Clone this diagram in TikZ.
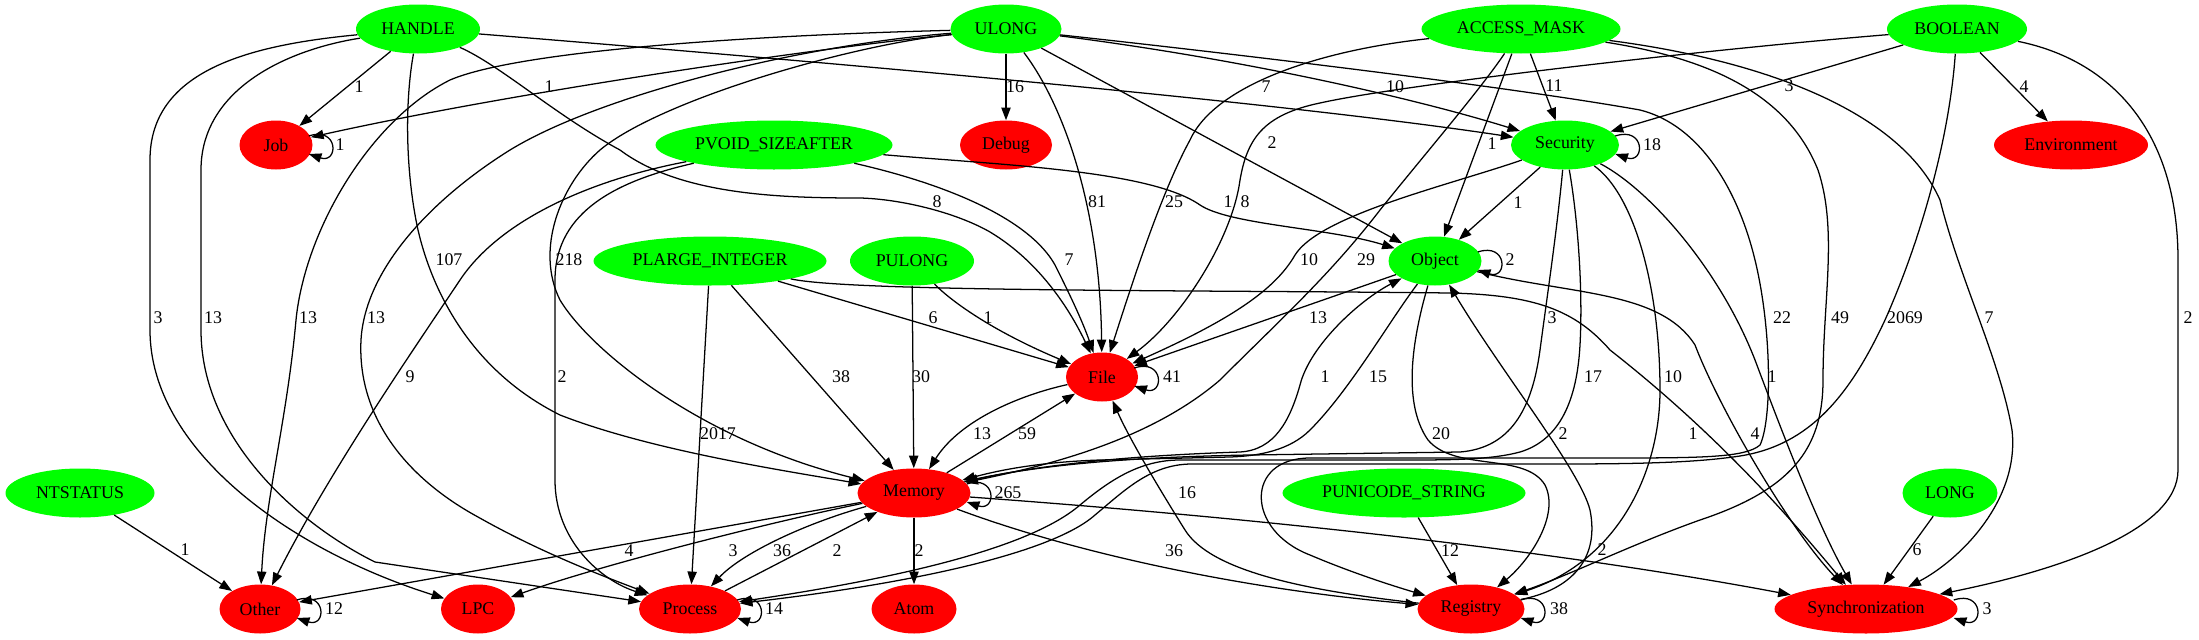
\documentclass[tikz,border=0pt]{standalone}
\usepackage{fontspec}
\setmainfont{Liberation Serif}
\usetikzlibrary{shapes.geometric,arrows.meta}
\definecolor{gcol}{RGB}{0,255,0}
\definecolor{rcol}{RGB}{255,0,0}
\newcommand\myloop[1]{\draw[edg] ([shift={(-4,-9)}]#1.east) .. controls +(30,-10) and +(30,10) .. ([shift={(-4,9)}]#1.east);}
\begin{document}
\begin{tikzpicture}[x=0.75pt,y=-0.75pt,
  font=\fontsize{13.4}{16}\selectfont,
  base/.style={ellipse, draw=none, inner sep=0pt, minimum height=36.75pt},
  gnode/.style={base, fill=gcol, minimum width=#1*0.75pt},
  rnode/.style={base, fill=rcol, minimum width=#1*0.75pt},
  edg/.style={draw=black, line width=0.95pt, -{Triangle[length=9.5pt,width=7pt]}},
  lbl/.style={inner sep=0pt}]
\useasboundingbox (0,0) rectangle (2199,639);
% nodes
\node[gnode=124] (HANDLE) at (418,29) {HANDLE};
\node[gnode=111] (ULONG) at (1006,29) {ULONG};
\node[gnode=199] (ACCESS) at (1521,29) {ACCESS\_MASK};
\node[gnode=140] (BOOLEAN) at (1957,29) {BOOLEAN};
\node[rnode=73] (Job) at (276,145) {Job};
\node[gnode=237] (PVOID) at (774,145) {PVOID\_SIZEAFTER};
\node[rnode=92] (Debug) at (1006,145) {Debug};
\node[gnode=108] (Security) at (1565,145) {Security};
\node[rnode=154] (Env) at (2071,145) {Environment};
\node[gnode=233] (PLARGE) at (710,261) {PLARGE\_INTEGER};
\node[gnode=124] (PULONG) at (912,261) {PULONG};
\node[gnode=93] (Object) at (1435,261) {Object};
\node[rnode=72] (File) at (1102,377) {File};
\node[gnode=149] (NTSTATUS) at (80,493) {NTSTATUS};
\node[rnode=113] (Memory) at (914,493) {Memory};
\node[gnode=243] (PUNI) at (1404,493) {PUNICODE\_STRING};
\node[gnode=95] (LONG) at (1950,493) {LONG};
\node[rnode=81] (Other) at (260,609) {Other};
\node[rnode=74] (LPC) at (478,609) {LPC};
\node[rnode=102] (Process) at (690,609) {Process};
\node[rnode=85] (Atom) at (914,609) {Atom};
\node[rnode=107] (Registry) at (1471,609) {Registry};
\node[rnode=183] (Sync) at (1866,609) {Synchronization};
% HANDLE
\draw[edg] (HANDLE) -- (Job);
\draw[edg] (HANDLE) .. controls (250,45) and (150,70) .. (150,160) -- (150,330) .. controls (150,450) and (290,550) .. (LPC);
\draw[edg] (HANDLE) .. controls (285,50) and (201,90) .. (201,170) -- (201,330) .. controls (201,440) and (300,525) .. (375,562) -- (Process);
\draw[edg] (HANDLE) .. controls (405,100) and (405,170) .. (418,230) .. controls (432,290) and (470,370) .. (560,415) .. controls (650,450) and (780,470) .. (Memory);
\draw[edg] (HANDLE) .. controls (500,65) and (555,115) .. (620,150) .. controls (680,195) and (780,198) .. (860,198) .. controls (900,199) and (955,212) .. (990,232) .. controls (1040,262) and (1070,310) .. (File);
\draw[edg] (HANDLE) .. controls (900,68) and (1300,105) .. (Security);
% ULONG
\draw[edg] (ULONG) .. controls (800,50) and (500,95) .. (Job);
\draw[edg] (ULONG) .. controls (760,35) and (520,50) .. (450,80) .. controls (370,120) and (305,230) .. (296,320) .. controls (287,420) and (265,500) .. (Other);
\draw[edg] (ULONG) .. controls (800,45) and (600,95) .. (510,150) .. controls (430,200) and (365,270) .. (361,340) .. controls (357,420) and (410,480) .. (478,517) .. controls (540,552) and (600,575) .. (Process);
\draw[edg] (ULONG) .. controls (850,45) and (660,100) .. (600,150) .. controls (560,185) and (535,250) .. (560,300) .. controls (590,350) and (700,440) .. (Memory);
\draw[edg] (ULONG) -- (Debug);
\draw[edg] (ULONG) .. controls (1060,100) and (1100,200) .. (File);
\draw[edg] (ULONG) -- (Object);
\draw[edg] (ULONG) .. controls (1250,60) and (1420,100) .. (Security);
\draw[edg] (ULONG) .. controls (1200,50) and (1500,85) .. (1640,110) .. controls (1700,125) and (1738,190) .. (1755,260) .. controls (1772,330) and (1772,420) .. (1760,445) .. controls (1745,458) and (1700,458) .. (1600,458) -- (1310,458) .. controls (1245,458) and (1245,530) .. (1310,555) .. controls (1350,572) and (1390,585) .. (Registry);
% ACCESS_MASK
\draw[edg] (ACCESS) .. controls (1320,50) and (1215,85) .. (1190,140) .. controls (1160,195) and (1130,290) .. (File);
\draw[edg] (ACCESS) .. controls (1480,90) and (1420,160) .. (1380,210) .. controls (1330,275) and (1280,320) .. (1220,380) .. controls (1150,440) and (1050,465) .. (Memory);
\draw[edg] (ACCESS) -- (Object);
\draw[edg] (ACCESS) -- (Security);
\draw[edg] (ACCESS) .. controls (1720,60) and (1790,100) .. (1818,170) .. controls (1838,230) and (1823,300) .. (1823,380) .. controls (1823,450) and (1790,490) .. (1700,520) .. controls (1630,545) and (1570,575) .. (Registry);
\draw[edg] (ACCESS) .. controls (1760,60) and (1900,110) .. (1940,200) .. controls (1960,280) and (2000,360) .. (2012,430) .. controls (2020,500) and (1960,560) .. (Sync);
% BOOLEAN
\draw[edg] (BOOLEAN) -- (Security);
\draw[edg] (BOOLEAN) -- (Env);
\draw[edg] (BOOLEAN) .. controls (1700,50) and (1400,85) .. (1320,103) .. controls (1262,115) and (1247,140) .. (1240,180) .. controls (1232,240) and (1180,320) .. (File);
\draw[edg] (BOOLEAN) .. controls (2110,60) and (2178,130) .. (2178,260) -- (2178,470) .. controls (2178,530) and (2060,570) .. (Sync);
\draw[edg] (BOOLEAN) .. controls (1950,130) and (1925,230) .. (1885,320) .. controls (1850,395) and (1810,445) .. (1740,456) .. controls (1700,462) and (1650,464) .. (1560,464) -- (1190,464) .. controls (1150,465) and (1125,490) .. (1095,515) .. controls (1050,555) and (900,585) .. (Process);
% Security
\draw[edg] (Security) .. controls (1578,220) and (1583,290) .. (1580,345) .. controls (1577,400) and (1560,440) .. (1520,452) .. controls (1490,460) and (1450,460) .. (1400,460) -- (1180,460) .. controls (1140,460) and (1110,480) .. (1080,505) .. controls (1030,548) and (900,578) .. (Process);
\draw[edg] (Security) .. controls (1557,230) and (1548,290) .. (1540,350) .. controls (1532,410) and (1510,448) .. (1460,452) -- (1250,455) .. controls (1130,457) and (1040,465) .. (Memory);
\draw[edg] (Security) .. controls (1450,185) and (1320,215) .. (1295,255) .. controls (1275,290) and (1230,320) .. (File);
\draw[edg] (Security) -- (Object);
\draw[edg] (Security) .. controls (1635,195) and (1660,290) .. (1660,390) .. controls (1660,470) and (1620,560) .. (Registry);
\draw[edg] (Security) .. controls (1650,190) and (1720,270) .. (1755,360) .. controls (1785,440) and (1820,530) .. (Sync);
% PVOID_SIZEAFTER
\draw[edg] (PVOID) .. controls (590,180) and (500,220) .. (460,280) .. controls (420,340) and (330,470) .. (Other);
\draw[edg] (PVOID) .. controls (620,180) and (555,210) .. (555,280) -- (555,480) .. controls (555,540) and (600,580) .. (Process);
\draw[edg] (PVOID) .. controls (950,185) and (1030,220) .. (1055,265) .. controls (1070,295) and (1082,320) .. (File);
\draw[edg] (PVOID) .. controls (1000,165) and (1150,170) .. (1200,205) .. controls (1230,225) and (1330,228) .. (Object);
% PLARGE_INTEGER
\draw[edg] (PLARGE) -- (File);
\draw[edg] (PLARGE) -- (Memory);
\draw[edg] (PLARGE) -- (Process);
\draw[edg] (PLARGE) .. controls (850,292) and (1200,290) .. (1450,293) .. controls (1535,295) and (1575,310) .. (1610,350) .. controls (1725,440) and (1800,530) .. (Sync);
% PULONG
\draw[edg] (PULONG) .. controls (950,300) and (990,330) .. (File);
\draw[edg] (PULONG) -- (Memory);
% Object
\draw[edg] (Object) -- (File);
\draw[edg] (Object) .. controls (1390,320) and (1350,390) .. (1310,430) .. controls (1290,450) and (1260,456) .. (1230,457) -- (1100,460) .. controls (1040,462) and (1000,470) .. (Memory);
\draw[edg] (Object) .. controls (1415,330) and (1400,400) .. (1428,440) .. controls (1455,472) and (1525,452) .. (1545,485) .. controls (1560,515) and (1530,560) .. (Registry);
\draw[edg] (Object) .. controls (1570,295) and (1660,290) .. (1695,345) .. controls (1720,410) and (1790,530) .. (Sync);
% Memory and others
\draw[edg] (Memory) .. controls (1050,462) and (1150,455) .. (1240,452) .. controls (1275,450) and (1290,420) .. (1300,385) .. controls (1310,345) and (1360,300) .. (Object);
\draw[edg] (Registry) .. controls (1570,590) and (1600,560) .. (1590,510) .. controls (1580,470) and (1500,370) .. (Object);
\draw[edg] (File) .. controls (1020,395) and (960,420) .. (Memory);
\draw[edg] (Memory) -- (File);
\draw[edg] (Registry) .. controls (1300,590) and (1210,570) .. (1185,530) .. controls (1160,490) and (1130,440) .. (File);
\draw[edg] (Memory) .. controls (1080,555) and (1250,590) .. (Registry);
\draw[edg] (Memory) .. controls (1150,510) and (1500,540) .. (Sync);
\draw[edg] (Memory) -- (Other);
\draw[edg] (Memory) .. controls (780,520) and (600,565) .. (LPC);
\draw[edg] (Memory) .. controls (800,525) and (740,555) .. (Process);
\draw[edg] (Process) -- (Memory);
\draw[edg] (Memory) -- (Atom);
\draw[edg] (NTSTATUS) -- (Other);
\draw[edg] (PUNI) -- (Registry);
\draw[edg] (LONG) -- (Sync);
% self loops
\myloop{Job}
\myloop{Security}
\myloop{Object}
\myloop{File}
\myloop{Memory}
\myloop{Other}
\myloop{Process}
\myloop{Registry}
\myloop{Sync}
% labels
\node[lbl] (a1) at (359,87) {1};
\node[lbl] (a2) at (549,87) {1};
\node[lbl] (a3) at (1015,87) {16};
\node[lbl] (a4) at (1266,87) {7};
\node[lbl] (a5) at (1395,87) {10};
\node[lbl] (a6) at (1554,86) {11};
\node[lbl] (a7) at (1789,86) {3};
\node[lbl] (a8) at (2024,87) {4};
\node[lbl] (b1) at (340,145) {1};
\node[lbl] (b2) at (1272,143) {2};
\node[lbl] (b3) at (1492,144) {1};
\node[lbl] (b4) at (1652,145) {18};
\node[lbl] (c1) at (937,202) {8};
\node[lbl] (c2) at (1097,202) {81};
\node[lbl] (c3) at (1174,202) {25};
\node[lbl] (c4) at (1228,202) {1};
\node[lbl] (c5) at (1245,202) {8};
\node[lbl] (c6) at (1518,203) {1};
\node[lbl] (d1) at (449,260) {107};
\node[lbl] (d2) at (569,260) {218};
\node[lbl] (d3) at (1069,260) {7};
\node[lbl] (d4) at (1309,260) {10};
\node[lbl] (d5) at (1366,260) {29};
\node[lbl] (d6) at (1510,260) {2};
\node[lbl] (e1) at (158,318) {3};
\node[lbl] (e2) at (213,318) {13};
\node[lbl] (e3) at (308,318) {13};
\node[lbl] (e4) at (376,318) {13};
\node[lbl] (e5) at (933,318) {6};
\node[lbl] (e6) at (988,318) {1};
\node[lbl] (e7) at (1318,318) {13};
\node[lbl] (e8) at (1552,318) {3};
\node[lbl] (e9) at (1782,318) {22};
\node[lbl] (e10) at (1840,318) {49};
\node[lbl] (e11) at (1905,318) {2069};
\node[lbl] (e12) at (1989,318) {7};
\node[lbl] (e13) at (2188,318) {2};
\node[lbl] (f1) at (410,377) {9};
\node[lbl] (f2) at (562,377) {2};
\node[lbl] (f3) at (841,377) {38};
\node[lbl] (f4) at (921,377) {30};
\node[lbl] (f5) at (1172,377) {41};
\node[lbl] (f6) at (1325,377) {1};
\node[lbl] (f7) at (1378,377) {15};
\node[lbl] (f8) at (1593,377) {17};
\node[lbl] (f9) at (1673,377) {10};
\node[lbl] (f10) at (1772,377) {1};
\node[lbl] (g1) at (718,434) {2017};
\node[lbl] (g2) at (982,434) {13};
\node[lbl] (g3) at (1027,434) {59};
\node[lbl] (g4) at (1441,434) {20};
\node[lbl] (g5) at (1563,434) {2};
\node[lbl] (g6) at (1693,434) {1};
\node[lbl] (g7) at (1755,434) {4};
\node[lbl] (h1) at (1008,493) {265};
\node[lbl] (h2) at (1187,493) {16};
\node[lbl] (i1) at (185,550) {1};
\node[lbl] (i2) at (629,551) {4};
\node[lbl] (i3) at (733,551) {3};
\node[lbl] (i4) at (782,551) {36};
\node[lbl] (i5) at (837,551) {2};
\node[lbl] (i6) at (919,551) {2};
\node[lbl] (i7) at (1174,551) {36};
\node[lbl] (i8) at (1450,551) {12};
\node[lbl] (i9) at (1602,550) {2};
\node[lbl] (i10) at (1917,550) {6};
\node[lbl] (j1) at (334,609) {12};
\node[lbl] (j2) at (774,609) {14};
\node[lbl] (j3) at (1559,609) {38};
\node[lbl] (j4) at (1987,609) {3};
\end{tikzpicture}
\end{document}
